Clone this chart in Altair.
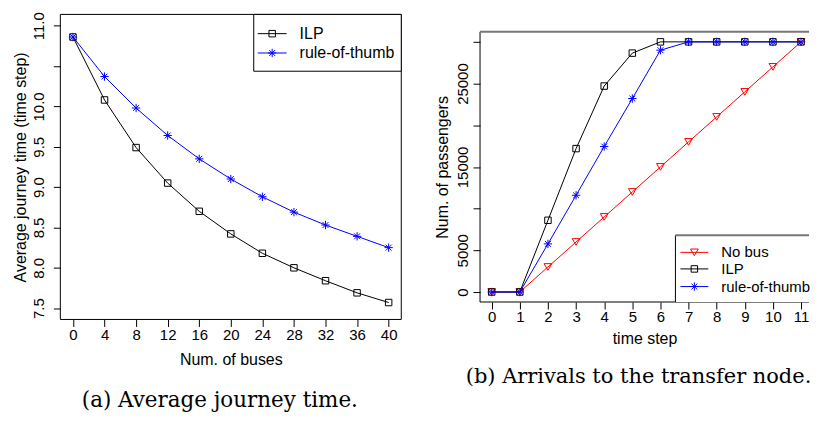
import altair as alt
import pandas as pd

# ---------------- data ----------------
buses = [0, 4, 8, 12, 16, 20, 24, 28, 32, 36, 40]
ilp_time = [10.86, 10.08, 9.49, 9.05, 8.70, 8.42, 8.18, 8.00, 7.84, 7.69, 7.57]
rot_time = [10.86, 10.37, 9.98, 9.64, 9.35, 9.10, 8.88, 8.69, 8.53, 8.39, 8.25]

steps = [0, 1, 2, 3, 4, 5, 6, 7, 8, 9, 10, 11]
nobus_arr = [0, 0, 3000, 6000, 9000, 12000, 15000, 18000, 21000, 24000, 27000, 30000]
ilp_arr = [0, 0, 8600, 17200, 24700, 28650, 30000, 30000, 30000, 30000, 30000, 30000]
rot_arr = [0, 0, 5770, 11600, 17450, 23200, 29000, 30000, 30000, 30000, 30000, 30000]

x_ticks_a = [0, 4, 8, 12, 16, 20, 24, 28, 32, 36, 40]
y_ticks_a = [7.5, 8.0, 8.5, 9.0, 9.5, 10.0, 10.5, 11.0]
x_ticks_b = [0, 1, 2, 3, 4, 5, 6, 7, 8, 9, 10, 11]
y_ticks_b = [0, 5000, 10000, 15000, 20000, 25000, 30000]

legend_a = ["ILP", "rule-of-thumb"]
legend_b = ["No bus", "ILP", "rule-of-thumb"]
caption_a = "(a) Average journey time."
caption_b = "(b) Arrivals to the transfer node."

# ---------------- style ----------------
SANS = "Liberation Sans"
SERIF = "DejaVu Serif"
LFS = 15   # tick labels
TFS = 16   # axis titles / legend
ASTER = "M-1,0L1,0M0,-1L0,1M-0.7,-0.7L0.7,0.7M-0.7,0.7L0.7,-0.7"
STYLE = {
    "ILP": dict(color="black", shape="square", size=42),
    "rule-of-thumb": dict(color="blue", shape=ASTER, size=70),
    "No bus": dict(color="red", shape="triangle-down", size=60),
}

WA, HA = 342, 306
WB, HB = 330, 271


def axis(values, title, **kw):
    base = dict(values=values, title=title, grid=False, domain=False, tickSize=7,
                tickColor="black", tickWidth=1, labelFont=SANS, labelFontSize=LFS,
                labelColor="black", titleFont=SANS, titleFontSize=TFS,
                titleFontWeight="normal", titleColor="black", labelFlush=False,
                labelOverlap=False)
    base.update(kw)
    return alt.Axis(**base)


def series_layers(xs, ys, name, X, Y):
    st = STYLE[name]
    df = pd.DataFrame({"x": xs, "y": ys})
    line = alt.Chart(df).mark_line(color=st["color"], strokeWidth=1).encode(x=X, y=Y)
    pts = alt.Chart(df).mark_point(shape=st["shape"], color=st["color"], filled=False,
                                   size=st["size"], strokeWidth=1, opacity=1).encode(x=X, y=Y)
    return [line, pts]


def legend_layers(names, box, ys, lx0, lx1, tx, fs, open_right=False):
    one = pd.DataFrame({"k": [0]})
    x0, x1, y0, y1 = box
    if open_right:
        layers = [
            alt.Chart(one).mark_rect(fill="white").encode(
                x=alt.value(x0), x2=alt.value(x1), y=alt.value(y0), y2=alt.value(y1)),
            alt.Chart(one).mark_rule(color="black", strokeWidth=1).encode(
                x=alt.value(x0), y=alt.value(y0), y2=alt.value(y1)),
            alt.Chart(one).mark_rule(color="#777777", strokeWidth=2).encode(
                x=alt.value(x0), x2=alt.value(x1), y=alt.value(y0)),
        ]
    else:
        layers = [alt.Chart(one).mark_rect(fill="white", stroke="black", strokeWidth=1).encode(
            x=alt.value(x0), x2=alt.value(x1), y=alt.value(y0), y2=alt.value(y1))]
    for name, yy in zip(names, ys):
        st = STYLE[name]
        layers.append(alt.Chart(one).mark_rule(color=st["color"], strokeWidth=1).encode(
            x=alt.value(lx0), x2=alt.value(lx1), y=alt.value(yy)))
        layers.append(alt.Chart(one).mark_point(shape=st["shape"], color=st["color"], filled=False,
                                                size=st["size"], strokeWidth=1, opacity=1).encode(
            x=alt.value((lx0 + lx1) / 2), y=alt.value(yy)))
        layers.append(alt.Chart(one).mark_text(text=name, font=SANS, fontSize=fs, color="black",
                                               align="left", baseline="middle").encode(
            x=alt.value(tx), y=alt.value(yy)))
    return layers


one = pd.DataFrame({"k": [0]})

# ---------------- panel (a) ----------------
XA = alt.X("x:Q", scale=alt.Scale(domain=[-1.6, 41.6], nice=False, zero=False),
           axis=axis(x_ticks_a, "Num. of buses", labelPadding=1.5, titlePadding=9))
YA = alt.Y("y:Q", scale=alt.Scale(domain=[7.36, 11.14], nice=False, zero=False),
           axis=axis(y_ticks_a, "Average journey time (time step)", format=".1f",
                     labelExpr="datum.value == 10.5 ? '' : datum.label",
                     labelAngle=270, labelAlign="center", labelBaseline="bottom",
                     labelPadding=6.5, titlePadding=3.5))

frame_a = alt.Chart(one).mark_rect(fillOpacity=0, stroke="black", strokeWidth=1).encode(
    x=alt.value(0), x2=alt.value(WA), y=alt.value(0), y2=alt.value(HA))
layers_a = []
layers_a += series_layers(buses, ilp_time, "ILP", XA, YA)
layers_a += series_layers(buses, rot_time, "rule-of-thumb", XA, YA)
layers_a.append(frame_a)
layers_a += legend_layers(legend_a, (194, WA, 0, 57), [19.3, 38.7], 198, 227, 240, TFS)
layers_a.append(alt.Chart(one).mark_text(text=caption_a, font=SERIF, fontSize=21.5, color="black",
                                         align="center", baseline="alphabetic").encode(
    x=alt.value(160), y=alt.value(393.5)))
panel_a = alt.layer(*layers_a).properties(width=WA, height=HA)

# ---------------- panel (b) ----------------
XB = alt.X("x:Q", scale=alt.Scale(domain=[-0.415, 11.283], nice=False, zero=False),
           axis=axis(x_ticks_b, "time step", labelPadding=0.5, titlePadding=6.5))
YB = alt.Y("y:Q", scale=alt.Scale(domain=[-1200, 31200], nice=False, zero=False),
           axis=axis(y_ticks_b, "Num. of passengers", format="d",
                     labelExpr="(datum.value == 10000 || datum.value == 20000 || datum.value == 30000) ? '' : datum.label",
                     labelAngle=270, labelAlign="center", labelBaseline="bottom",
                     labelPadding=3, titlePadding=5))

layers_b = []
layers_b += series_layers(steps, nobus_arr, "No bus", XB, YB)
layers_b += series_layers(steps, ilp_arr, "ILP", XB, YB)
layers_b += series_layers(steps, rot_arr, "rule-of-thumb", XB, YB)
layers_b.append(alt.Chart(one).mark_rule(color="black", strokeWidth=1).encode(
    x=alt.value(0), y=alt.value(0), y2=alt.value(HB)))
layers_b.append(alt.Chart(one).mark_rule(color="black", strokeWidth=1).encode(
    x=alt.value(0), x2=alt.value(WB), y=alt.value(HB)))
layers_b.append(alt.Chart(one).mark_rule(color="#777777", strokeWidth=2).encode(
    x=alt.value(0), x2=alt.value(WB), y=alt.value(0)))
layers_b += legend_layers(legend_b, (196, WB, 204, HB), [221.2, 237.8, 255.5], 201, 229, 242, 15,
                          open_right=True)
layers_b.append(alt.Chart(one).mark_text(text=caption_b, font=SERIF, fontSize=21, color="black",
                                         align="center", baseline="alphabetic").encode(
    x=alt.value(159), y=alt.value(352.5)))
panel_b = alt.layer(*layers_b).properties(width=WB, height=HB)

chart = alt.hconcat(panel_a, panel_b, spacing=79, bounds="flush", center=True).properties(
    padding={"left": 3.5, "top": 1.8, "right": 0, "bottom": 0},
    background="white",
).configure_view(stroke="transparent")

chart.save("out.html", embed_options={"renderer": "svg", "actions": False})
